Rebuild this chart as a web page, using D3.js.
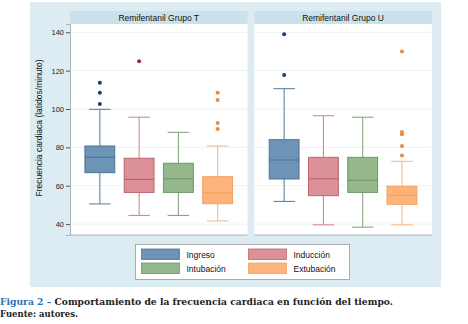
<!DOCTYPE html>
<html>
<head>
<meta charset="utf-8">
<script src="https://cdn.jsdelivr.net/npm/d3@7"></script>
<style>
  body { margin: 0; background: #fff; }
  svg { display: block; font-family: "Liberation Sans", Arial, sans-serif; }
</style>
</head>
<body>
<svg id="chart" width="468" height="324"></svg>
<script>
// Groups (panels) and time points
const panels = ["Remifentanil Grupo T", "Remifentanil Grupo U"];
const times = ["Ingreso", "Inducción", "Intubación", "Extubación"];
const yTicks = [40, 60, 80, 100, 120, 140];

// Box stats per panel: [lowWhisker, q1, median, q3, highWhisker]
const statsT = [
  [50.5, 66.8, 74.8, 80.7, 99.8],
  [44.5, 56.5, 63.3, 74.3, 95.7],
  [44.5, 56.5, 63.6, 71.7, 87.8],
  [41.6, 50.6, 56.3, 64.7, 80.7]
];
const statsU = [
  [51.8, 63.5, 73.4, 84.0, 110.6],
  [39.6, 54.8, 63.6, 74.8, 96.5],
  [38.4, 56.5, 62.8, 74.8, 95.7],
  [39.6, 50.3, 55.0, 59.7, 72.7]
];
// Outliers
const outT = [
  [113.7, 108.5, 102.6],
  [124.9],
  [],
  [108.5, 104.7, 92.7, 89.6]
];
const outU = [
  [139, 117.7],
  [],
  [],
  [129.9, 88, 86.8, 80.7, 75.8]
];

const fills = ["#6d94b6", "#dc9098", "#94b78c", "#fdb37a"];
const strokes = ["#4b7596", "#b8666f", "#6f966a", "#f0a262"];
const whisk = ["#5f86a6", "#d08a92", "#88a882", "#f7bb86"];
const dots = ["#1c3f66", "#9e2a3a", "#6f966a", "#ea8a40"];

const svg = d3.select("#chart");

// outer background
svg.append("rect").attr("x", 30).attr("y", 2).attr("width", 411).attr("height", 285)
  .attr("fill", "#dcecf2");

const y = d3.scaleLinear().domain([34.3, 144.3]).range([235, 24]);

const panelX = [70, 254.3];
const panelW = 177.5;
const allStats = [statsT, statsU];
const allOut = [outT, outU];

panels.forEach((name, p) => {
  const g = svg.append("g").attr("transform", `translate(${panelX[p]},0)`);
  // header
  g.append("rect").attr("x", 0).attr("y", 11).attr("width", panelW).attr("height", 13)
    .attr("fill", "#cae2ea");
  g.append("text").attr("x", panelW / 2).attr("y", 21).attr("text-anchor", "middle")
    .attr("font-size", 8.5).attr("fill", "#111").text(name);
  // plot area
  g.append("rect").attr("x", 0).attr("y", 24).attr("width", panelW).attr("height", 211)
    .attr("fill", "#fff");
  g.selectAll(".grid").data(yTicks).enter().append("line")
    .attr("x1", 0).attr("x2", panelW)
    .attr("y1", d => y(d)).attr("y2", d => y(d))
    .attr("stroke", "#eef1f3").attr("stroke-width", 1);
  g.append("line").attr("x1", 0).attr("x2", panelW).attr("y1", 235).attr("y2", 235)
    .attr("stroke", "#a9b3b8").attr("stroke-width", 1);

  const x = d3.scaleBand().domain(times).range([0, panelW]).paddingInner(0.24).paddingOuter(0.38);
  const bw = x.bandwidth();

  times.forEach((t, i) => {
    const s = allStats[p][i];
    const cx = x(t) + bw / 2;
    const bx = g.append("g");
    // whiskers
    bx.append("line").attr("x1", cx).attr("x2", cx).attr("y1", y(s[4])).attr("y2", y(s[3]))
      .attr("stroke", whisk[i]).attr("stroke-width", 1.1);
    bx.append("line").attr("x1", cx).attr("x2", cx).attr("y1", y(s[1])).attr("y2", y(s[0]))
      .attr("stroke", whisk[i]).attr("stroke-width", 1.1);
    bx.selectAll(".cap").data([s[0], s[4]]).enter().append("line")
      .attr("x1", cx - bw * 0.36).attr("x2", cx + bw * 0.36)
      .attr("y1", d => y(d)).attr("y2", d => y(d))
      .attr("stroke", whisk[i]).attr("stroke-width", 1.1);
    // box
    bx.append("rect").attr("x", x(t)).attr("width", bw)
      .attr("y", y(s[3])).attr("height", y(s[1]) - y(s[3]))
      .attr("fill", fills[i]).attr("stroke", strokes[i]).attr("stroke-width", 1);
    bx.append("line").attr("x1", x(t)).attr("x2", x(t) + bw)
      .attr("y1", y(s[2])).attr("y2", y(s[2]))
      .attr("stroke", strokes[i]).attr("stroke-width", 1.1);
    // outliers
    bx.selectAll(".dot").data(allOut[p][i]).enter().append("circle")
      .attr("cx", cx).attr("cy", d => y(d)).attr("r", 2)
      .attr("fill", dots[i]);
  });
});

// y axis on left panel
const yAxis = svg.append("g").attr("transform", `translate(${panelX[0]},0)`)
  .call(d3.axisLeft(y).tickValues(yTicks).tickSize(4).tickPadding(2));
yAxis.select(".domain").attr("stroke", "#a9b3b8");
yAxis.selectAll(".tick line").attr("stroke", "#555");
yAxis.selectAll(".tick text").attr("font-size", 7.5).attr("fill", "#222")
  .attr("font-family", "Liberation Sans, Arial, sans-serif");

svg.append("text").attr("transform", "translate(42,128) rotate(-90)")
  .attr("text-anchor", "middle").attr("font-size", 8.5).attr("fill", "#111")
  .text("Frecuencia cardiaca (latidos/minuto)");

// legend
const lg = svg.append("g");
lg.append("rect").attr("x", 135.5).attr("y", 244.5).attr("width", 214).attr("height", 35)
  .attr("fill", "#fff").attr("stroke", "#999").attr("stroke-width", 0.8);
const legX = [141.5, 248.5];
const legY = [249, 263];
times.forEach((t, i) => {
  const lx = legX[i % 2], ly = legY[Math.floor(i / 2)];
  lg.append("rect").attr("x", lx).attr("y", ly).attr("width", 38).attr("height", 10.5)
    .attr("fill", fills[i]).attr("stroke", strokes[i]).attr("stroke-width", 0.8);
  lg.append("text").attr("x", lx + 45).attr("y", ly + 8.5)
    .attr("font-size", 8.5).attr("fill", "#111").text(t);
});

// caption
const cap = svg.append("text").attr("x", 0).attr("y", 305)
  .attr("font-family", "DejaVu Serif, serif").attr("font-weight", "bold")
  .attr("font-size", 8.5).attr("textLength", 393).attr("lengthAdjust", "spacingAndGlyphs");
cap.append("tspan").attr("fill", "#2e72b8").text("Figura 2 – ");
cap.append("tspan").attr("fill", "#222").text("Comportamiento de la frecuencia cardiaca en función del tiempo.");
svg.append("text").attr("x", 0).attr("y", 317)
  .attr("font-family", "DejaVu Serif, serif").attr("font-weight", "bold")
  .attr("font-size", 8.5).attr("fill", "#222").text("Fuente: autores.");
</script>
</body>
</html>
